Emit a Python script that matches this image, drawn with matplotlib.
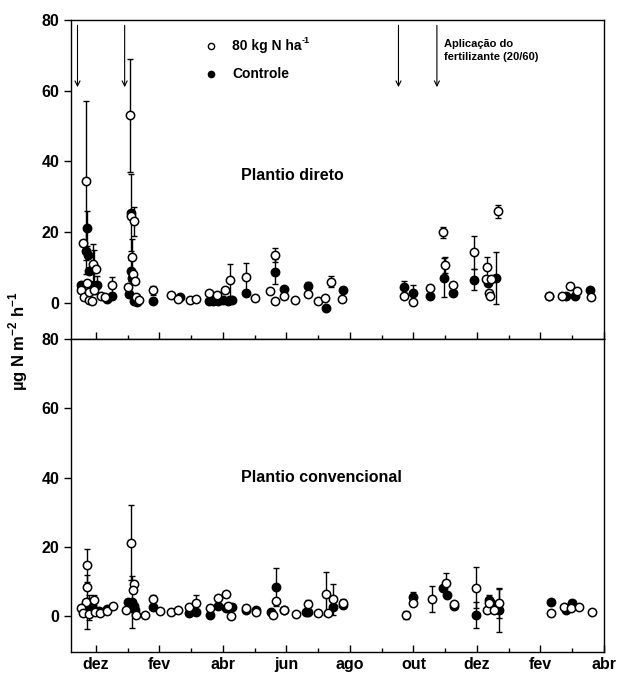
import numpy as np
import matplotlib.pyplot as plt

plt.rcParams['font.family'] = ['Liberation Sans', 'DejaVu Sans']
plt.rcParams['font.weight'] = 'bold'
plt.rcParams['mathtext.fontset'] = 'custom'
plt.rcParams['mathtext.bf'] = 'Liberation Sans:bold'
plt.rcParams['mathtext.rm'] = 'Liberation Sans:bold'

# eixo x em meses contados a partir de 1 de dezembro
meses_tick = np.arange(0, 17)
meses_nome = ['dez', 'fev', 'abr', 'jun', 'ago', 'out', 'dez', 'fev', 'abr']
adubacao = [-0.575, 0.91, 9.53, 10.74]

# plantio direto - 80 kg N ha-1
pd_n80_x = [-0.45, -0.40, -0.38, -0.30, -0.27, -0.22, -0.20, -0.12, -0.10, -0.06, 0.00, 0.15, 0.30, 0.50,
            1.00, 1.08, 1.12, 1.20, 1.15, 1.17, 1.22, 1.27, 1.35,
            1.79, 2.38, 2.58, 2.98, 3.16, 3.58, 3.82, 4.06, 4.24, 4.74, 5.02, 5.47, 5.63, 5.63, 5.92, 6.26,
            6.67, 6.99, 7.23, 7.41, 7.75,
            9.71, 9.98, 10.53, 10.94, 11.00, 11.25, 11.92, 12.33, 12.30, 12.38, 12.42, 12.65, 12.45,
            14.27, 14.69, 14.93, 15.16, 15.58]
pd_n80_y = [3.5, 17, 1.5, 34.5, 5.5, 0.8, 3.0, 0.5, 11, 3.5, 9.5, 1.8, 1.5, 5,
            4.5, 53, 24.5, 23, 13, 8, 6, 1.5, 0.8,
            3.5, 2.3, 1.0, 0.8, 1.0, 2.8, 2.3, 3.5, 6.5, 7.3, 1.3, 3.4, 13.6, 0.6, 1.8, 0.7,
            2.5, 0.6, 1.3, 5.9, 1.0,
            2.0, 0.1, 4.1, 19.9, 10.7, 5.1, 14.2, 10.1, 6.7, 2.7, 1.8, 25.8, 6.7,
            2.0, 2.0, 4.6, 3.2, 1.5]
pd_n80_e = [0, 0, 0, 22.5, 0, 0, 0, 0, 5.5, 0, 0, 0, 0, 2.3,
            0, 16, 0, 4, 5, 0, 0, 0, 0,
            1.2, 0, 0, 0, 0, 0, 0, 0, 4.5, 4, 0, 0, 2, 0, 0, 0,
            0, 0, 0, 1.5, 0,
            0, 0, 0, 1.5, 2.2, 0, 4.8, 2.9, 0, 0, 0, 1.9, 0,
            0, 0, 0, 0, 0]

# plantio direto - controle
pd_ctl_x = [-0.45, -0.30, -0.28, -0.25, -0.22, -0.18, -0.05, 0.05, 0.35, 0.50,
            1.05, 1.10, 1.12, 1.14, 1.20, 1.30,
            1.79, 2.64, 3.55, 3.70, 3.85, 4.00, 4.15, 4.30, 4.72, 5.63, 5.94, 6.67, 7.25, 7.78,
            9.71, 9.98, 10.53, 10.97, 11.25, 11.92, 12.35, 12.60,
            14.27, 14.80, 15.10, 15.56]
pd_ctl_y = [5, 14.5, 21, 13.5, 9, 5, 10, 5, 1, 2,
            2.5, 25.5, 9, 7, 0.5, 0.3,
            0.5, 1.5, 0.5, 0.6, 0.5, 0.7, 0.4, 0.8, 2.7, 8.8, 3.9, 4.6, -1.5, 3.7,
            4.4, 2.7, 2.0, 7.0, 2.7, 6.5, 5.6, 7.0,
            2.0, 1.8, 1.8, 3.7]
pd_ctl_e = [0, 6.5, 5, 0, 0, 0, 5, 2.5, 0, 0,
            0, 11, 3, 0, 0, 0,
            0, 0, 0, 0, 0, 0, 0, 0, 0, 3.5, 0, 1.3, 0, 0,
            1.8, 2.3, 0, 5.5, 0, 3.0, 0, 7.3,
            0, 0, 0, 0]

# plantio convencional - 80 kg N ha-1
pc_n80_x = [-0.29, -0.26, -0.30, -0.45, -0.40, -0.20, -0.03, -0.05, 0.13, 0.35, 0.54,
            1.12, 1.20, 1.17, 0.96, 1.28, 1.54, 1.80, 2.03, 2.38, 2.58, 2.95, 3.16, 3.60, 3.84, 4.11,
            4.15, 4.27, 4.74, 5.05, 5.57, 5.66, 5.94, 6.31, 6.67, 6.99,
            7.25, 7.30, 7.46, 7.78,
            9.77, 10.00, 10.58, 11.03, 11.29,
            11.98, 12.33, 12.37, 12.55, 12.70,
            14.33, 14.74, 14.95, 15.22, 15.63]
pc_n80_y = [14.6, 8.3, 4.0, 2.4, 0.9, 0.6, 1.2, 4.6, 1.0, 1.5, 2.9,
            21.2, 9.2, 7.5, 1.7, 0.3, 0.3, 4.8, 1.5, 1.3, 1.7, 2.7, 3.7, 2.4, 5.3, 6.5,
            2.8, 0.0, 2.2, 1.3, 0.3, 4.4, 1.7, 0.6, 3.5, 0.8,
            6.5, 1.0, 4.8, 3.7,
            0.3, 3.7, 5.0, 9.4, 3.5,
            8.2, 1.7, 3.7, 1.7, 3.7,
            0.8, 2.7, 2.2, 2.7, 1.3]
pc_n80_e = [4.9, 0, 0, 0, 0, 0, 0, 1.4, 0, 0, 0,
            10.8, 0, 0, 0, 0, 0, 1.2, 0, 0, 0, 0, 2.4, 0, 0, 0,
            0, 0, 0, 0, 0, 0, 0, 0, 1.0, 0,
            6.3, 0, 4.4, 1.3,
            1.2, 0, 3.7, 2.9, 0,
            6.0, 0, 0, 0, 4.3,
            0, 0, 0, 0, 0]

# plantio convencional - controle
pc_ctl_x = [-0.27, -0.35, -0.22, -0.10, 0.10, 0.35,
            1.02, 1.08, 1.15, 1.20, 1.25, 1.80, 2.95, 3.16, 3.60, 3.84, 4.11, 4.30, 4.74, 5.05,
            5.52, 5.66, 5.94, 6.62, 6.67,
            7.46, 7.78,
            10.00, 10.92, 11.07, 11.29,
            11.98, 12.39, 12.45, 12.70,
            14.33, 14.80, 15.00]
pc_ctl_y = [4.0, 3.0, 2.5, 2.0, 1.5, 2.0,
            4.1, 3.6, 4.0, 3.0, 1.7, 2.7, 1.0, 1.3, 0.3, 2.9, 2.2, 2.5, 1.7, 1.7,
            1.3, 8.3, 1.8, 1.3, 1.3,
            2.5, 3.2,
            5.6, 8.0, 6.1, 2.9,
            0.3, 4.6, 3.7, 1.7,
            4.1, 1.7, 3.8]
pc_ctl_e = [7.8, 0, 3.5, 0, 0, 0,
            0, 0, 7.5, 0, 0, 0, 0, 0, 0, 0, 0, 0, 0, 0,
            0, 5.5, 0, 0, 0,
            0, 0,
            1.4, 0, 0, 0,
            3.7, 1.5, 0, 6.2,
            0, 0, 0.8]


def serie(ax, x, y, e, cor):
    x = np.array(x)
    y = np.array(y)
    e = np.array(e)
    m = e > 0
    ax.errorbar(x[m], y[m], yerr=e[m], fmt='none', ecolor='black',
                elinewidth=1, capsize=2.5, capthick=1, zorder=2)
    ax.plot(x, y, 'o', ms=6, mfc=cor, mec='black', mew=1.1, zorder=3)


def eixo(ax):
    ax.set_xlim(-0.78, 16)
    ax.set_ylim(-10.3, 80)
    ax.set_yticks([0, 20, 40, 60, 80])
    ax.set_xticks(meses_tick[::2])
    ax.set_xticks(meses_tick[1::2], minor=True)
    ax.tick_params(axis='x', which='major', direction='in', length=5, width=1)
    ax.tick_params(axis='x', which='minor', direction='in', length=3, width=1)
    ax.tick_params(axis='y', direction='out', length=5, width=1, labelsize=11.5)
    for s in ax.spines.values():
        s.set_linewidth(1)


fig = plt.figure(figsize=(6.21, 6.79), dpi=100)
ax1 = fig.add_axes([0.1143, 0.5007, 0.8583, 0.4698])
ax2 = fig.add_axes([0.1143, 0.0402, 0.8583, 0.4605])

serie(ax1, pd_ctl_x, pd_ctl_y, pd_ctl_e, 'black')
serie(ax1, pd_n80_x, pd_n80_y, pd_n80_e, 'white')
serie(ax2, pc_ctl_x, pc_ctl_y, pc_ctl_e, 'black')
serie(ax2, pc_n80_x, pc_n80_y, pc_n80_e, 'white')

eixo(ax1)
eixo(ax2)
ax1.tick_params(axis='x', labelbottom=False)
ax2.set_xticklabels(meses_nome, fontsize=11.5)

for a in adubacao:
    ax1.annotate('', xy=(a, 61), xytext=(a, 78.5),
                 arrowprops=dict(arrowstyle='->', lw=0.8, color='black',
                                 mutation_scale=9, shrinkA=0, shrinkB=0))

ax1.text(10.95, 74.5, 'Aplicação do\nfertilizante (20/60)', fontsize=8, va='top', ha='left',
         linespacing=1.3)
ax1.text(6.2, 36, 'Plantio direto', fontsize=11.5, ha='center', va='center')
ax2.text(7.1, 40, 'Plantio convencional', fontsize=11.5, ha='center', va='center')

ax1.plot([3.63], [72.6], 'o', ms=4.5, mfc='white', mec='black', mew=1, clip_on=False)
ax1.plot([3.63], [64.8], 'o', ms=4.5, mfc='black', mec='black', mew=1, clip_on=False)
ax1.text(4.3, 72.6, '80 kg N ha', fontsize=10, va='center')
ax1.text(6.47, 74.2, '-1', fontsize=6.5, va='center')
ax1.text(4.3, 64.8, 'Controle', fontsize=10, va='center')

fig.text(0.029, 0.497, 'µg N m$^{\\mathbf{-2}}$ h$^{\\mathbf{-1}}$', rotation=90, fontsize=12,
         ha='center', va='center')

fig.savefig('out.png', dpi=100)
